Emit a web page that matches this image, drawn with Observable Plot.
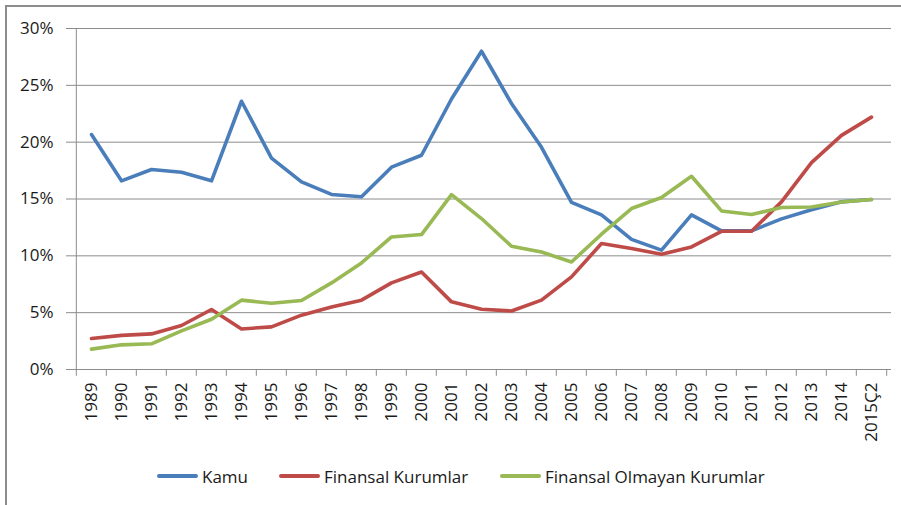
<!DOCTYPE html>
<html>
<head>
<meta charset="utf-8">
<script src="https://cdn.jsdelivr.net/npm/d3@7"></script>
<script src="https://cdn.jsdelivr.net/npm/@observablehq/plot@0.6"></script>
<style>
  html, body { margin: 0; padding: 0; background: #fff; }
  body { width: 901px; height: 505px; position: relative; overflow: hidden; font-family: "Open Sans", sans-serif; }
  #frame { position: absolute; left: 5px; top: 5px; width: 900px; height: 505px; border-left: 2px solid #8c8c8c; border-top: 2px solid #8c8c8c; }
  #chart { position: absolute; left: 0; top: 0; }
  #legend { position: absolute; top: 464px; left: 0; width: 901px; height: 24px; font-size: 17px; color: #1a1a1a; }
  .item { position: absolute; display: flex; align-items: center; height: 24px; white-space: nowrap; }
  .sw { display: inline-block; width: 41px; height: 4px; border-radius: 2px; margin-right: 4px; }
</style>
</head>
<body>
<div id="frame"></div>
<div id="chart"></div>
<div id="legend"></div>
<script>
const years = ["1989","1990","1991","1992","1993","1994","1995","1996","1997","1998","1999","2000","2001","2002","2003","2004","2005","2006","2007","2008","2009","2010","2011","2012","2013","2014","2015Ç2"];
const seriesNames = ["Kamu", "Finansal Kurumlar", "Finansal Olmayan Kurumlar"];
const kamu = [20.67, 16.6, 17.6, 17.35, 16.6, 23.6, 18.6, 16.5, 15.4, 15.2, 17.8, 18.85, 23.8, 28.0, 23.4, 19.55, 14.7, 13.6, 11.45, 10.5, 13.6, 12.2, 12.2, 13.25, 14.05, 14.75, 14.95];
const finansal = [2.73, 3.0, 3.13, 3.87, 5.28, 3.57, 3.75, 4.78, 5.5, 6.1, 7.62, 8.58, 5.95, 5.3, 5.15, 6.1, 8.15, 11.08, 10.64, 10.14, 10.78, 12.16, 12.16, 14.75, 18.2, 20.6, 22.2];
const finansalOlmayan = [1.79, 2.17, 2.26, 3.4, 4.42, 6.1, 5.83, 6.07, 7.62, 9.38, 11.66, 11.87, 15.39, 13.28, 10.84, 10.34, 9.46, 11.9, 14.16, 15.13, 17.0, 13.95, 13.63, 14.25, 14.3, 14.74, 14.95];
const yTicks = [0, 5, 10, 15, 20, 25, 30];
const colors = ["#4a7ebb", "#be4b48", "#98b954"];

const seriesValues = [kamu, finansal, finansalOlmayan];
const data = seriesNames.flatMap((name, s) => years.map((year, i) => ({series: name, year, value: seriesValues[s][i]})));

const W = 901, H = 440, mL = 71, mR = 10, mT = 28, mB = 71;
const step = (W - mL - mR) / years.length;
const grid = "#8c8c8c";

const chart = Plot.plot({
  width: W, height: H,
  marginLeft: mL, marginRight: mR, marginTop: mT, marginBottom: mB,
  style: {background: "transparent", fontFamily: "Open Sans", fontSize: "17px", color: "#1a1a1a", overflow: "visible"},
  x: {type: "band", domain: years, padding: 0, label: null},
  y: {domain: [0, 30], label: null},
  color: {domain: seriesNames, range: colors},
  marks: [
    Plot.ruleY(yTicks, {stroke: grid, strokeWidth: 1}),
    Plot.ruleX([years[0]], {y1: 0, y2: 30, dx: -step / 2, stroke: grid}),
    Plot.ruleX(years, {y1: 0, y2: -0.6, dx: -step / 2, stroke: grid}),
    Plot.ruleX([years[years.length - 1]], {y1: 0, y2: -0.6, dx: step / 2, stroke: grid}),
    Plot.axisY(yTicks, {tickFormat: d => d + "%", tickSize: 5, tickPadding: 13, stroke: grid, fill: "#1a1a1a", label: null}),
    Plot.axisX({tickRotate: -90, tickSize: 0, tickPadding: 13, fill: "#1a1a1a", label: null}),
    Plot.line(data, {x: "year", y: "value", z: "series", stroke: "series", strokeWidth: 3.6, strokeLinejoin: "round", strokeLinecap: "round"})
  ]
});
document.getElementById("chart").appendChild(chart);

const legend = document.getElementById("legend");
const lefts = [157, 279, 500];
seriesNames.forEach((name, i) => {
  const it = document.createElement("div");
  it.className = "item";
  it.style.left = lefts[i] + "px";
  const sw = document.createElement("span");
  sw.className = "sw";
  sw.style.background = colors[i];
  it.appendChild(sw);
  it.appendChild(document.createTextNode(name));
  legend.appendChild(it);
});
</script>
</body>
</html>
